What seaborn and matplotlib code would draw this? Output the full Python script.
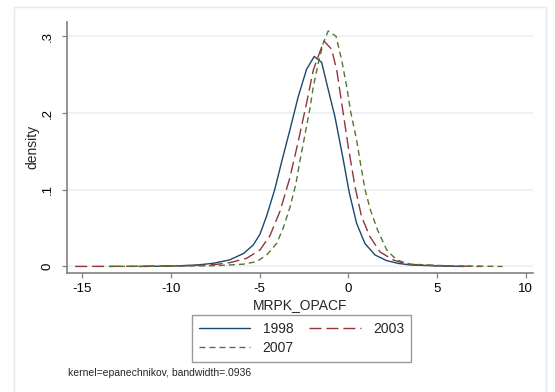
import matplotlib
matplotlib.use("Agg")
import matplotlib.pyplot as plt
from matplotlib.patches import Rectangle
import seaborn as sns
import pandas as pd

# ---- data ----
x_1998 = [-11.8, -10.0, -8.5, -7.6, -6.7, -5.9, -5.36, -4.98, -4.6, -4.15, -3.75, -3.29,
          -2.82, -2.35, -1.92, -1.50, -1.22, -0.75, -0.28, 0.05, 0.47, 0.94, 1.51, 2.17,
          2.82, 3.5, 5.0, 6.5]
y_1998 = [0.0, 0.0005, 0.002, 0.0042, 0.0085, 0.017, 0.028, 0.042, 0.066, 0.100, 0.137, 0.178,
          0.2215, 0.257, 0.2737, 0.266, 0.239, 0.195, 0.139, 0.097, 0.0563, 0.030, 0.015, 0.0076,
          0.004, 0.002, 0.0007, 0.0]

x_2003 = [-15.4, -12.0, -9.0, -7.5, -6.67, -5.73, -4.98, -4.42, -3.85, -3.3, -2.82, -2.35,
          -1.97, -1.69, -1.37, -0.94, -0.65, -0.37, 0.0, 0.38, 0.75, 1.22, 1.79, 2.54,
          3.3, 5.0, 7.5]
y_2003 = [0.0, 0.0003, 0.001, 0.0025, 0.005, 0.0107, 0.0215, 0.040, 0.072, 0.115, 0.163, 0.213,
          0.256, 0.274, 0.294, 0.283, 0.256, 0.213, 0.156, 0.104, 0.065, 0.039, 0.019, 0.0085,
          0.003, 0.001, 0.0]

x_2007 = [-13.5, -10.0, -7.5, -5.92, -5.17, -4.6, -4.04, -3.67, -3.29, -2.95, -2.73, -2.44,
          -2.16, -1.97, -1.69, -1.41, -1.13, -0.69, -0.37, -0.09, 0.15, 0.47, 0.72, 0.95,
          1.25, 1.65, 2.17, 2.73, 3.5, 5.5, 8.7]
y_2007 = [0.0, 0.0003, 0.001, 0.003, 0.0063, 0.0150, 0.030, 0.050, 0.077, 0.108, 0.137, 0.172,
          0.206, 0.2345, 0.265, 0.291, 0.307, 0.300, 0.269, 0.2345, 0.200, 0.165, 0.130, 0.100,
          0.0737, 0.0476, 0.0215, 0.0085, 0.003, 0.001, 0.0]

series_labels = ["1998", "2003", "2007"]
x_ticks = [-15, -10, -5, 0, 5, 10]
y_ticks = [0, 0.1, 0.2, 0.3]
y_tick_labels = ["0", ".1", ".2", ".3"]
x_label = "MRPK_OPACF"
y_label = "density"
note = "kernel=epanechnikov, bandwidth=.0936"

# ---- styling ----
sns.set_style("white")
plt.rcParams["font.family"] = ["Liberation Sans", "DejaVu Sans"]

W, H = 555, 392
fig = plt.figure(figsize=(W / 100, H / 100), dpi=100)
fig.patch.set_facecolor("white")

# outer light frame (Stata graph region)
fig.add_artist(Rectangle((14 / W, 0 - 0.01), (546 - 14) / W, (392 - 6.5) / H + 0.01,
                         transform=fig.transFigure, fill=False,
                         edgecolor="#e3ebee", linewidth=1.0))

ax_l, ax_r, ax_t, ax_b = 66.7, 533.0, 21.7, 273.0
ax = fig.add_axes([ax_l / W, 1 - ax_b / H, (ax_r - ax_l) / W, (ax_b - ax_t) / H])
ax.set_facecolor("white")

colors = ["#1a476f", "#90353b", "#55752f"]
dashes = [None, (8.6, 3.6), (4.3, 2.9)]
xs = [x_1998, x_2003, x_2007]
ys = [y_1998, y_2003, y_2007]

handles = []
for lab, xv, yv, c, d in zip(series_labels, xs, ys, colors, dashes):
    df = pd.DataFrame({"x": xv, "y": yv})
    sns.lineplot(data=df, x="x", y="y", ax=ax, color=c, linewidth=1.0,
                 label=lab, sort=False, estimator=None)
    line = ax.get_lines()[-1]
    if d is not None:
        line.set_dashes(d)
    handles.append(line)

ax.set_xlim(-15.88, 10.42)
ax.set_ylim(-0.0085, 0.319)
ax.set_xticks(x_ticks)
ax.set_xticklabels([str(t) for t in x_ticks])
ax.set_yticks(y_ticks)
ax.set_yticklabels(y_tick_labels, rotation=90, va="center")

for y in y_ticks:
    ax.axhline(y, color="#eaf2f3", linewidth=1.4, zorder=0)

for s in ["top", "right"]:
    ax.spines[s].set_visible(False)
for s in ["left", "bottom"]:
    ax.spines[s].set_color("#808080")
    ax.spines[s].set_linewidth(1.2)

ax.tick_params(axis="both", which="major", direction="out", length=3.5, width=0.9,
               color="#808080", labelsize=9.5, labelcolor="#000000")
ax.tick_params(axis="x", pad=3.5, bottom=True)
ax.tick_params(axis="y", pad=6, left=True)

ax.set_xlabel(x_label, fontsize=10)
ax.xaxis.set_label_coords(0.5, -0.1)
ax.set_ylabel(y_label, fontsize=10)
ax.yaxis.set_label_coords(-0.058, 0.5)

ax.get_legend().remove()
order = [0, 2, 1]
leg = fig.legend([handles[i] for i in order], [series_labels[i] for i in order],
                 ncol=2, loc="upper center", bbox_to_anchor=(301.5 / W, 1 - 315 / H),
                 borderaxespad=0.0,
                 frameon=True, fancybox=False, edgecolor="#808080", fontsize=10,
                 handlelength=3.7, columnspacing=1.1, handletextpad=0.9,
                 borderpad=0.5, labelspacing=0.35)
leg.get_frame().set_linewidth(1.0)

fig.text(68 / W, 1 - 373 / H, note, fontsize=7.5, va="center", ha="left")

fig.savefig("out.png", dpi=100, facecolor="white")
